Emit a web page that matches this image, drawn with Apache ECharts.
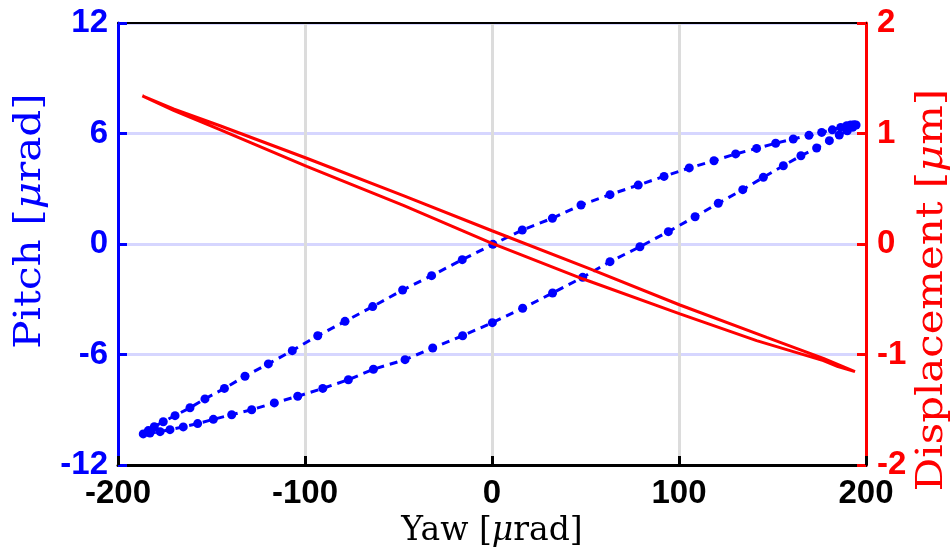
<!DOCTYPE html>
<html>
<head>
<meta charset="utf-8">
<script src="https://cdn.jsdelivr.net/npm/echarts@6/dist/echarts.min.js"></script>
<style>
  html, body { margin: 0; padding: 0; background: #ffffff; }
  #chart { width: 952px; height: 558px; }
</style>
</head>
<body>
<div id="chart"></div>
<script>
// Pitch vs. yaw hysteresis loop (blue, left axis) and displacement vs. yaw (red, right axis)

// Axis ticks
const yawTicks = [-200, -100, 0, 100, 200];
const pitchTicks = [-12, -6, 0, 6, 12];
const dispTicks = [-2, -1, 0, 1, 2];

// Pitch loop, upper branch (yaw decreasing from the right tip)
const yawUpper = [193.6, 191.8, 189.7, 186.5, 182.0, 176.3, 169.5, 161.1, 151.7, 141.5, 130.3, 118.7,
  105.5, 92.0, 78.2, 63.1, 47.6, 32.3, 16.2, 0.5, -15.9, -32.3, -47.8, -63.8, -78.6, -93.2, -106.8,
  -119.6, -132.1, -143.1, -153.5, -161.5, -169.5, -175.8, -180.6, -183.8, -186.5];
const pitchUpper = [6.48, 6.46, 6.42, 6.33, 6.20, 6.06, 5.90, 5.70, 5.47, 5.19, 4.89, 4.52,
  4.13, 3.67, 3.20, 2.68, 2.12, 1.40, 0.76, -0.02, -0.85, -1.72, -2.50, -3.40, -4.20, -4.98, -5.79,
  -6.51, -7.18, -7.84, -8.41, -8.89, -9.32, -9.65, -9.92, -10.13, -10.31];

// Pitch loop, lower branch (yaw increasing from the left tip)
const yawLower = [-182.9, -177.5, -172.2, -165.1, -157.4, -149.0, -139.2, -128.5, -116.4, -103.9,
  -90.5, -76.8, -63.4, -46.5, -31.7, -15.7, 0.2, 16.4, 32.4, 48.5, 63.1, 79.1, 94.3, 108.6, 121.0,
  134.1, 145.1, 155.8, 165.2, 173.6, 180.4, 185.7, 190.0, 192.9, 194.7];
const pitchLower = [-10.26, -10.19, -10.08, -9.93, -9.75, -9.52, -9.27, -9.00, -8.63, -8.27,
  -7.84, -7.37, -6.80, -6.28, -5.65, -4.98, -4.27, -3.49, -2.66, -1.81, -0.96, -0.15, 0.67, 1.48, 2.21,
  2.95, 3.62, 4.25, 4.79, 5.21, 5.61, 5.92, 6.15, 6.34, 6.46];

// Displacement, outgoing and return branches
const yawDispA = [-187.0, -170.0, -145.5, -99.1, -47.4, 0.0, 52.4, 100.5, 146.9, 177.2, 194.1];
const dispA = [1.34, 1.22, 1.07, 0.776, 0.437, 0.12, -0.226, -0.552, -0.845, -1.035, -1.155];
const yawDispB = [194.1, 185.0, 177.2, 141.5, 100.5, 48.8, 0.0, -47.4, -99.1, -145.5, -170.0, -187.0];
const dispB = [-1.155, -1.11, -1.056, -0.875, -0.633, -0.317, 0.005, 0.35, 0.703, 1.035, 1.207, 1.34];

const zip = (xs, ys) => xs.map((x, i) => [x, ys[i]]);
const pitchLoop = zip(yawUpper, pitchUpper).concat(zip(yawLower, pitchLower));
const dispLoop = zip(yawDispA, dispA).concat(zip(yawDispB, dispB));

const BLUE = '#0000ff';
const RED = '#ff0000';
const tickFont = { fontFamily: 'Liberation Sans', fontWeight: 'bold', fontSize: 33 };
const serif = 'DejaVu Serif';

function nameRich(color, size) {
  return {
    n: { fontFamily: serif, fontSize: size, color: color, fill: color },
    m: { fontFamily: serif, fontSize: size, color: color, fill: color, fontStyle: 'italic' }
  };
}

// Rotated axis title, slightly stretched along its reading direction
function sideTitle(text, color, size, cx, cy, stretch) {
  return {
    type: 'text',
    x: cx, y: cy,
    rotation: Math.PI / 2,
    scaleX: stretch,
    style: {
      text: text,
      fill: color,
      rich: nameRich(color, size),
      align: 'center',
      verticalAlign: 'middle'
    },
    z: 10
  };
}

const chart = echarts.init(document.getElementById('chart'), null, { renderer: 'canvas' });
chart.setOption({
  animation: false,
  backgroundColor: '#ffffff',
  grid: { left: 118, right: 86, top: 23, bottom: 93, outerBoundsMode: 'none', containLabel: false },
  graphic: [
    sideTitle('{n|Pitch [}{m|μ}{n|rad]}', BLUE, 38, 30, 221, 1.11),
    sideTitle('{n|Displacement [}{m|μ}{n|m]}', RED, 38, 932, 290, 1.10)
  ],
  xAxis: [{
    type: 'value',
    position: 'bottom',
    min: yawTicks[0], max: yawTicks[yawTicks.length - 1], interval: 100,
    name: '{n|Yaw [}{m|μ}{n|rad]}',
    nameLocation: 'middle',
    nameGap: 50,
    nameTextStyle: { rich: nameRich('#000000', 33), verticalAlign: 'top' },
    axisLine: { onZero: false, lineStyle: { color: '#000000', width: 3 } },
    axisTick: { inside: true, length: 9, lineStyle: { color: '#000000', width: 3 } },
    axisLabel: Object.assign({ color: '#000000', margin: 12 }, tickFont),
    splitLine: { show: true, lineStyle: { color: '#dcdcdc', width: 3 } }
  }, {
    type: 'value',
    position: 'top',
    min: -200, max: 200, interval: 100,
    axisLine: { onZero: false, lineStyle: { color: '#000000', width: 2 } },
    axisTick: { show: false },
    axisLabel: { show: false },
    splitLine: { show: false }
  }],
  yAxis: [{
    type: 'value',
    position: 'left',
    min: pitchTicks[0], max: pitchTicks[pitchTicks.length - 1], interval: 6,
    axisLine: { onZero: false, lineStyle: { color: BLUE, width: 3 } },
    axisTick: { inside: true, length: 9, lineStyle: { color: BLUE, width: 3 } },
    axisLabel: Object.assign({ color: BLUE, margin: 10 }, tickFont),
    splitLine: { show: true, lineStyle: { color: '#d6d6ff', width: 3 } }
  }, {
    type: 'value',
    position: 'right',
    min: dispTicks[0], max: dispTicks[dispTicks.length - 1], interval: 1,
    axisLine: { onZero: false, lineStyle: { color: RED, width: 3 } },
    axisTick: { inside: true, length: 9, lineStyle: { color: RED, width: 3 } },
    axisLabel: Object.assign({ color: RED, margin: 11 }, tickFont),
    splitLine: { show: false }
  }],
  series: [{
    name: 'Pitch',
    type: 'line',
    xAxisIndex: 0,
    yAxisIndex: 0,
    data: pitchLoop,
    symbol: 'circle',
    symbolSize: 9,
    itemStyle: { color: BLUE },
    lineStyle: { color: BLUE, width: 3, type: [8, 6] },
    z: 3
  }, {
    name: 'Displacement',
    type: 'line',
    xAxisIndex: 0,
    yAxisIndex: 1,
    data: dispLoop,
    showSymbol: false,
    symbol: 'none',
    lineStyle: { color: RED, width: 3 },
    z: 4
  }]
});
</script>
</body>
</html>
